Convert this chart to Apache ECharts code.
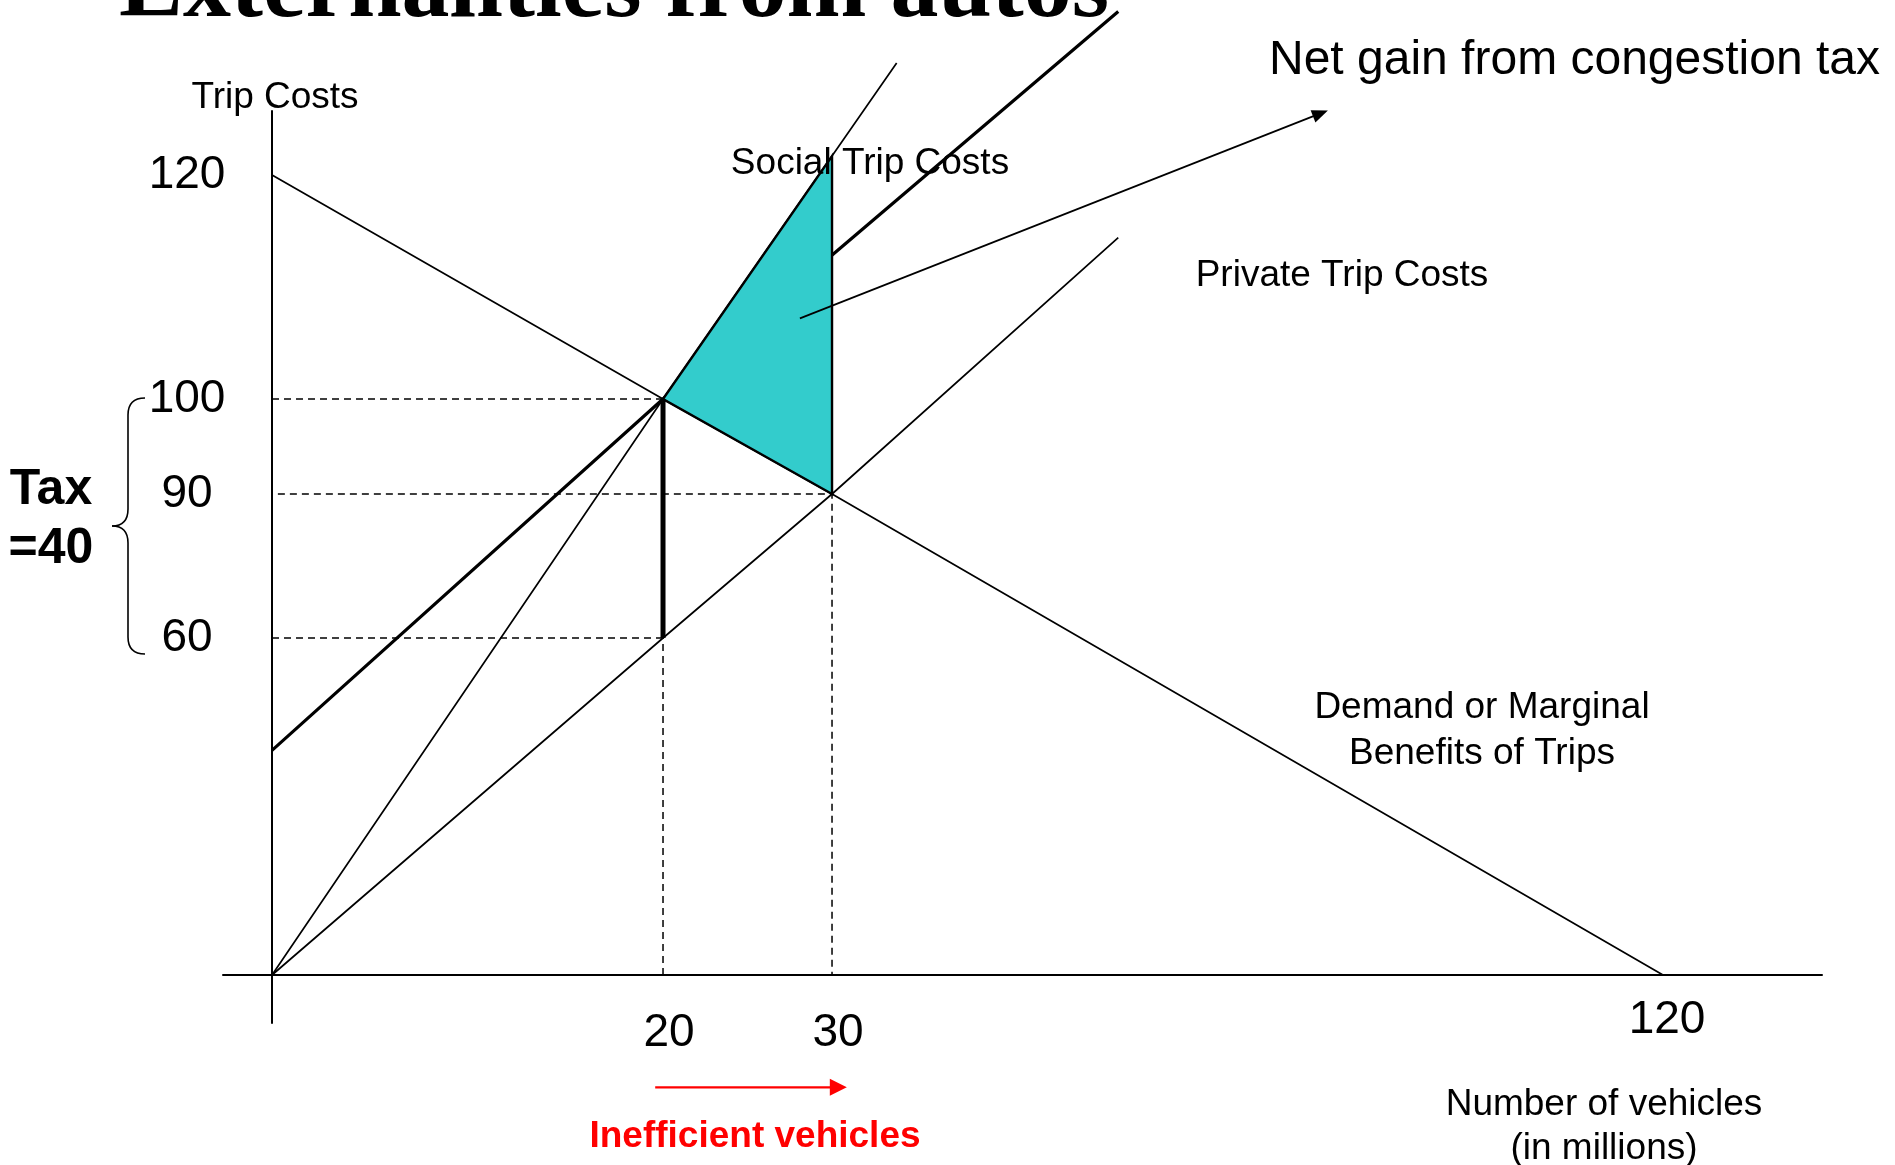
<!DOCTYPE html>
<html>
<head>
<meta charset="utf-8">
<title>Externalities from autos</title>
<script src="https://cdn.jsdelivr.net/npm/echarts@6/dist/echarts.min.js"></script>
<style>
  html, body { margin: 0; padding: 0; background: #ffffff; }
  #chart { width: 1895px; height: 1165px; }
</style>
</head>
<body>
<div id="chart"></div>
<script>
// Axis tick labels: vehicles (millions) and trip costs
const X_TICKS = [20, 30, 120];
const Y_TICKS = [60, 90, 100, 120];

// Curves as [vehicles, trip cost] points
const DEMAND = [[0, 120], [20, 100], [30, 90], [120, 0]];
const PRIVATE_COST = [[0, 0], [20, 60], [30, 90], [61, 114.4]];
const SOCIAL_COST = [[0, 0], [20, 100], [37, 130]];
const PRIVATE_PLUS_TAX = [[0, 40], [20, 100], [61, 134.6]];
const TAX_BAR = [[20, 60], [20, 100]];
const NET_GAIN = [[20, 100], [30, 121.7], [30, 90]];

// Dashed read-off lines
const GUIDE_100 = [[0, 100], [20, 100], [20, 0]];
const GUIDE_90 = [[0.3, 90], [30, 90], [30, 0]];
const GUIDE_60 = [[0, 60], [20, 60]];

// Callout arrows (tail, tip)
const NET_GAIN_POINTER = [[28.1, 107.2], [82.9, 125.5]];
const INEFFICIENT_RANGE = [[19.6, -20], [31.6, -20]];

// The diagram is a sketch, not drawn to scale: every labelled value sits at a
// fixed share (0-100) of its axis, and values in between are spaced evenly.
const X_SPACING = { values: [0, 20, 30, 120], at: [0, 28.11, 40.26, 100] };
const Y_SPACING = { values: [0, 60, 90, 100, 120], at: [0, 42.125, 60.125, 72, 100] };

function place(s, v) {
  const vs = s.values, at = s.at;
  let i = 0;
  while (i < vs.length - 2 && v > vs[i + 1]) i++;
  return at[i] + (v - vs[i]) * (at[i + 1] - at[i]) / (vs[i + 1] - vs[i]);
}
const pt = p => [place(X_SPACING, p[0]), place(Y_SPACING, p[1])];
const tickName = (s, ticks, v) => {
  const t = ticks.find(t => Math.abs(place(s, t) - v) < 1e-6);
  return t === undefined ? '' : String(t);
};

const SANS = '"Liberation Sans", Arial, Helvetica, sans-serif';
const SERIF = '"Liberation Serif", "Times New Roman", serif';

function curve(name, data, width, extra) {
  return Object.assign({
    name: name,
    type: 'line',
    data: data.map(pt),
    symbol: 'none',
    silent: true,
    clip: false,
    z: 2,
    lineStyle: { color: '#000', width: width, type: 'solid', cap: 'butt' }
  }, extra || {});
}
function guide(name, data) {
  return curve(name, data, 1.5, { lineStyle: { color: '#000', width: 1.5, type: [7, 5] } });
}
function label(text, x, y, size, opts) {
  opts = opts || {};
  return {
    type: 'text',
    x: x, y: y,
    silent: true,
    z: 10,
    style: Object.assign({
      text: text,
      font: (opts.bold ? 'bold ' : '') + size + 'px ' + (opts.family || SANS),
      fill: opts.color || '#000',
      align: opts.align || 'center',
      textAlign: opts.align || 'center',
      verticalAlign: 'middle',
      textVerticalAlign: 'middle'
    }, opts.style || {})
  };
}
function brace(stroke) {
  const s = { stroke: stroke, lineWidth: 1.6, fill: null };
  return [
    { type: 'bezierCurve', silent: true, shape: { x1: 145, y1: 398, x2: 128, y2: 415, cpx1: 128, cpy1: 398 }, style: s },
    { type: 'line', silent: true, shape: { x1: 128, y1: 415, x2: 128, y2: 509 }, style: s },
    { type: 'bezierCurve', silent: true, shape: { x1: 128, y1: 509, x2: 112, y2: 526, cpx1: 128, cpy1: 526 }, style: s },
    { type: 'bezierCurve', silent: true, shape: { x1: 112, y1: 526, x2: 128, y2: 543, cpx1: 128, cpy1: 526 }, style: s },
    { type: 'line', silent: true, shape: { x1: 128, y1: 543, x2: 128, y2: 637 }, style: s },
    { type: 'bezierCurve', silent: true, shape: { x1: 128, y1: 637, x2: 145, y2: 654, cpx1: 128, cpy1: 654 }, style: s }
  ];
}

const chart = echarts.init(document.getElementById('chart'), null, { renderer: 'canvas' });

chart.setOption({
  animation: false,
  backgroundColor: '#ffffff',
  grid: { left: 223, top: 111, width: 1599, height: 912, containLabel: false, outerBoundsMode: 'none' },
  xAxis: {
    type: 'value',
    min: -3.523,
    max: 111.43,
    splitLine: { show: false },
    axisTick: { show: false },
    axisLine: { onZero: true, lineStyle: { color: '#000', width: 2 } },
    axisLabel: {
      customValues: X_TICKS.map(v => place(X_SPACING, v)),
      formatter: v => {
        const t = tickName(X_SPACING, X_TICKS, v);
        return t === '120' ? '{far|' + t + '}' : '{near|' + t + '}';
      },
      margin: -26,
      color: '#000',
      fontFamily: SANS,
      fontSize: 46,
      rich: {
        near: { fontFamily: SANS, fontSize: 46, color: '#000', padding: [13, 0, 0, 12] },
        far: { fontFamily: SANS, fontSize: 46, color: '#000', padding: [0, 0, 0, 8] }
      }
    }
  },
  yAxis: {
    type: 'value',
    min: -6,
    max: 108,
    splitLine: { show: false },
    axisTick: { show: false },
    axisLine: { onZero: true, lineStyle: { color: '#000', width: 2 } },
    axisLabel: {
      customValues: Y_TICKS.map(v => place(Y_SPACING, v)),
      formatter: v => tickName(Y_SPACING, Y_TICKS, v),
      margin: 36,
      align: 'center',
      color: '#000',
      fontFamily: SANS,
      fontSize: 46
    }
  },
  series: [
    guide('guide100', GUIDE_100),
    guide('guide90', GUIDE_90),
    guide('guide60', GUIDE_60),
    curve('Private Trip Costs', PRIVATE_COST, 1.7),
    curve('Social Trip Costs', SOCIAL_COST, 1.7),
    curve('Demand', DEMAND, 1.7),
    curve('Private cost plus tax', PRIVATE_PLUS_TAX, 3.2),
    {
      name: 'Net gain from congestion tax',
      type: 'custom',
      z: 3,
      silent: true,
      clip: false,
      data: [[0, 0]],
      renderItem: (params, api) => ({
        type: 'polygon',
        shape: { points: NET_GAIN.map(p => api.coord(pt(p))) },
        style: { fill: '#33CCCC', stroke: '#000', lineWidth: 2.4, lineJoin: 'miter' }
      })
    },
    curve('Tax', TAX_BAR, 5, {
      z: 4,
      markLine: {
        silent: true,
        animation: false,
        symbol: ['none', 'triangle'],
        symbolSize: [13, 16],
        label: { show: false },
        lineStyle: { color: '#000', width: 1.7, type: 'solid' },
        emphasis: { disabled: true },
        data: [[{ coord: pt(NET_GAIN_POINTER[0]) }, { coord: pt(NET_GAIN_POINTER[1]) }]]
      }
    })
  ]
});

// The red arrow lies below the plotting area, so it is drawn as a graphic
// placed through the same axes.
const tail = chart.convertToPixel({ gridIndex: 0 }, pt(INEFFICIENT_RANGE[0]));
const tip = chart.convertToPixel({ gridIndex: 0 }, pt(INEFFICIENT_RANGE[1]));
const RED = '#FF0000';

chart.setOption({
  graphic: [
    label('Externalities from autos', 119, -9, 96, {
      bold: true, family: SERIF, align: 'left',
      style: { shadowColor: 'rgba(0,0,0,0.35)', shadowOffsetX: 2, shadowOffsetY: 2, shadowBlur: 0 }
    }),
    label('Trip Costs', 275, 97.5, 37),
    label('Social Trip Costs', 870, 163.5, 37),
    label('Private Trip Costs', 1342, 275.5, 37),
    label('Net gain from congestion tax', 1269, 61, 48, { align: 'left' }),
    label('Demand or Marginal', 1482, 707.5, 37),
    label('Benefits of Trips', 1482, 753.5, 37),
    label('Number of vehicles', 1604, 1104.5, 37),
    label('(in millions)', 1604, 1148.5, 37),
    label('Tax', 51, 490, 50, { bold: true }),
    label('=40', 51, 549, 50, { bold: true }),
    label('Inefficient vehicles', 755, 1136.5, 37, { bold: true, color: RED }),
    {
      type: 'line', silent: true, z: 10,
      shape: { x1: tail[0], y1: tail[1], x2: tip[0] - 14, y2: tip[1] },
      style: { stroke: RED, lineWidth: 2.4 }
    },
    {
      type: 'polygon', silent: true, z: 10,
      shape: { points: [[tip[0], tip[1]], [tip[0] - 17, tip[1] - 8.5], [tip[0] - 17, tip[1] + 8.5]] },
      style: { fill: RED, stroke: null }
    }
  ].concat(brace('#000'))
});
</script>
</body>
</html>
